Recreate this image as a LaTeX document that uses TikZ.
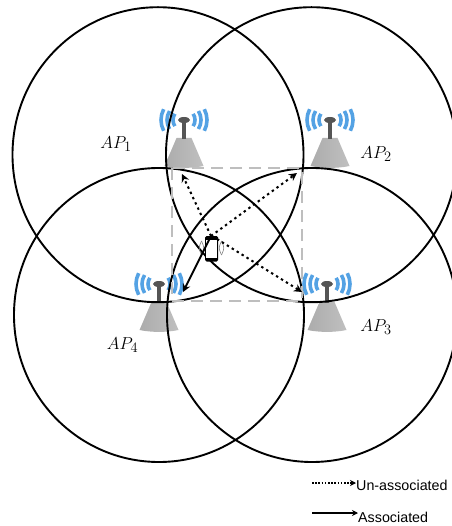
\documentclass[tikz,border=0pt]{standalone}
\usepackage{fontspec}
\setsansfont{Liberation Sans}
\usetikzlibrary{calc,arrows.meta,positioning,shapes}
\definecolor{wifiblue}{RGB}{84,162,228}
\definecolor{linkgray}{RGB}{190,190,190}
\definecolor{polegray}{RGB}{85,85,85}
\tikzset{
  cellrange/.style={line width=1.9pt,black},
  unassoc/.style={line width=2pt,dash pattern=on 2.4pt off 3.4pt,-{Stealth[length=8pt,width=8pt]}},
  assoc/.style={line width=2pt,-{Stealth[length=8pt,width=8pt]}},
  aplabel/.style={font=\fontsize{19}{22}\selectfont,inner sep=0pt},
  legendtext/.style={font=\sffamily\fontsize{14.3}{17}\selectfont,anchor=west,inner sep=0pt},
  pics/apicon/.style={code={
    \shade[left color=gray!65,middle color=gray!10,right color=gray!50] (-7.5,18) -- (7.5,18) -- (19.5,46) .. controls (8,48.5) and (-8,48.5) .. (-19.5,46) -- cycle;
    \fill[polegray] (-1.8,0) rectangle (1.8,19);
    \fill[polegray] (0,0) ellipse (6 and 3);
    \foreach \r/\ang in {11/34,17/32,23/28} {
      \draw[wifiblue,line width=3.6pt] (-\ang:\r) arc[start angle=-\ang,end angle=\ang,radius=\r];
      \draw[wifiblue,line width=3.6pt] (180-\ang:\r) arc[start angle=180-\ang,end angle=180+\ang,radius=\r];
    }
  }}
}
\begin{document}
\begin{tikzpicture}[x=1pt,y=-1pt]
    \useasboundingbox (0,0) rectangle (451,526);
    % access points
    \pic at (184,120) {apicon};
    \pic at (330,120) {apicon};
    \pic at (327,284) {apicon};
    \pic at (159,284) {apicon};
    % coverage
    \draw[cellrange] (158,154.7) ellipse (145.5 and 147.5);
    \draw[cellrange] (311.5,154.7) ellipse (145.5 and 147.5);
    \draw[cellrange] (159,315) ellipse (145 and 147);
    \draw[cellrange] (312,315) ellipse (145 and 147);
    \draw[linkgray,line width=2.2pt,dash pattern=on 12pt off 7pt] (172,168) rectangle (302,301);
    % phone
    \fill[black,rounded corners=1.5pt] (205,236) rectangle (218,261.5);
    \fill[white] (206,240) rectangle (217,257.5);
    \foreach \s in {-1,1} {
      \draw[gray,line width=0.6pt] (211.5+\s*10,241) .. controls (211.5+\s*13,248) .. (211.5+\s*10,255);
      \draw[gray,line width=0.6pt] (211.5+\s*10,241) .. controls (211.5+\s*7,248) .. (211.5+\s*10,255);
    }
    % links
    \coordinate (ue) at (211,236);
    \coordinate (uer) at (217,239);
    \coordinate (tipone) at (182,174);
    \coordinate (tiptwo) at (297,173);
    \coordinate (tipthree) at (302,292);
    \coordinate (tipfour) at (183,292);
    \draw[unassoc] (ue) -- (tipone);
    \draw[unassoc] (ue) -- (tiptwo);
    \draw[unassoc] (uer) -- (tipthree);
    \draw[assoc] (ue) -- (tipfour);
    % labels
    \node[aplabel] (labone) at (116,144) {$AP_1$};
    \node[aplabel] (labtwo) at (376,154) {$AP_2$};
    \node[aplabel] (labthree) at (376,327) {$AP_3$};
    \node[aplabel] (labfour) at (122.5,345) {$AP_4$};
    % legend
    \node[legendtext] (unlab) at (356,485) {Un-associated};
    \node[legendtext] (aslab) at (358,517.5) {Associated};
    \coordinate (unstart) at (312,483);
    \coordinate (asstart) at (312,513);
    \draw[line width=1.5pt,dash pattern=on 1.6pt off 1.6pt,-{Stealth[length=6pt,width=6pt]}] (unstart) -- (unlab.west |- unstart);
    \draw[line width=1.6pt,-{Stealth[length=6pt,width=6pt]}] (asstart) -- (aslab.west |- asstart);
  \end{tikzpicture}
\end{document}
